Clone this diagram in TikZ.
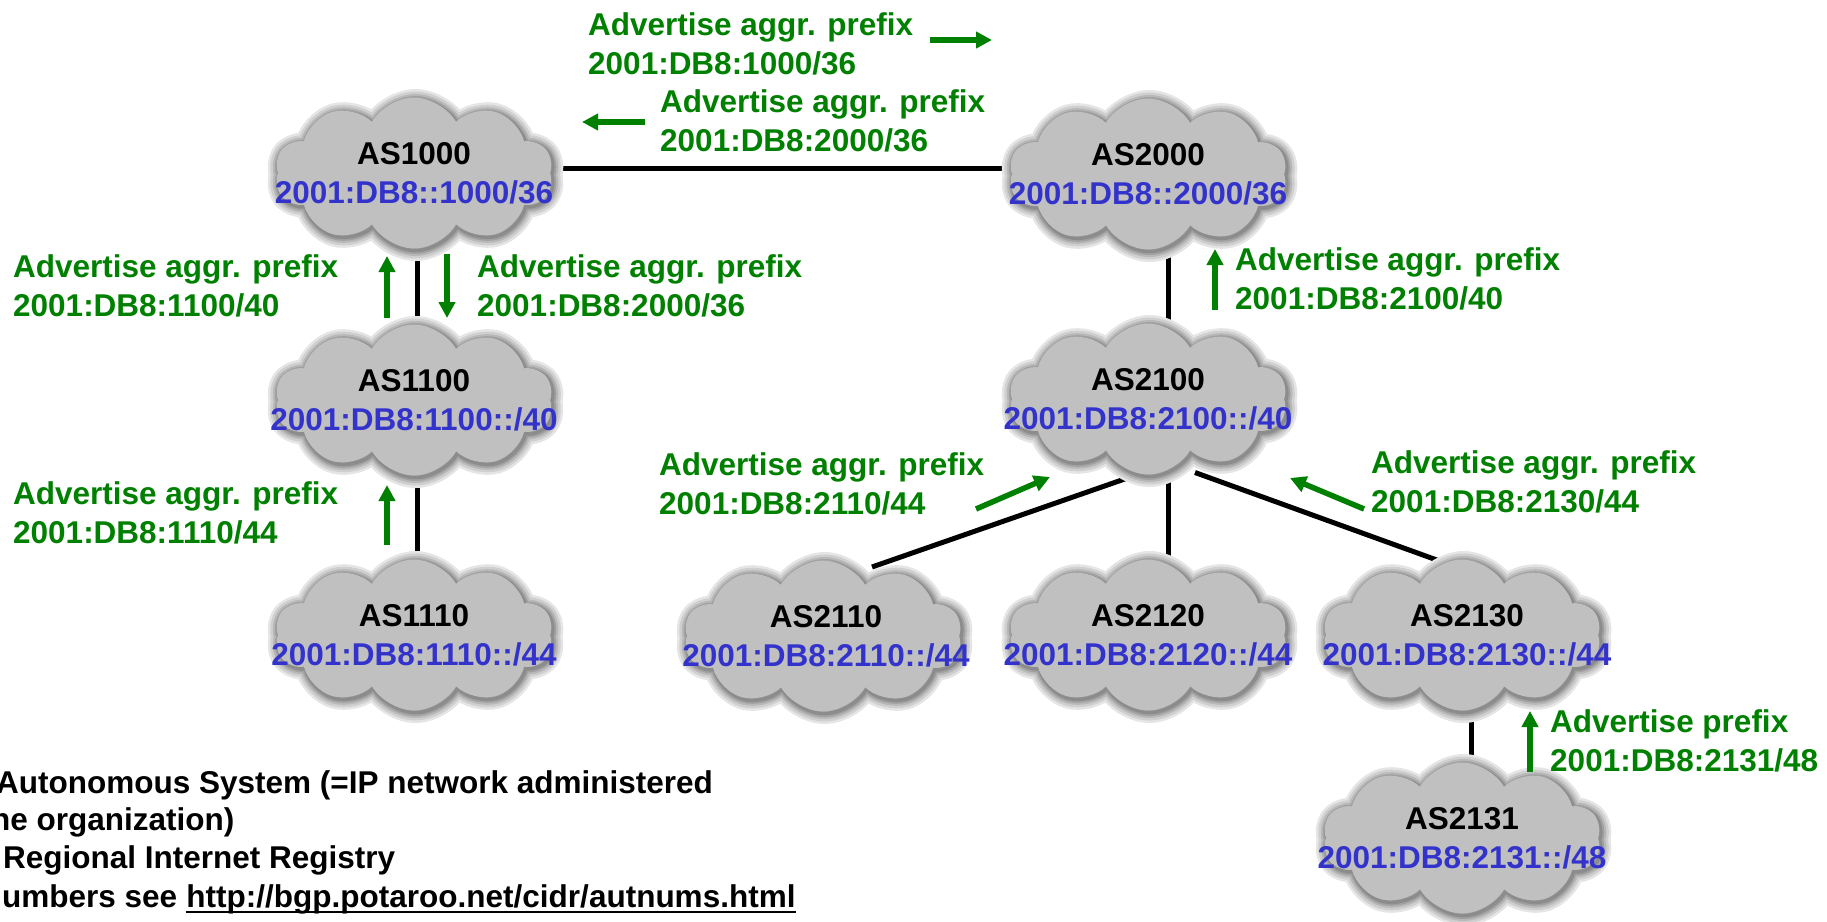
\documentclass[tikz,border=0pt]{standalone}
\usepackage{fontspec}
\setmainfont{Liberation Sans}
\usetikzlibrary{shapes.symbols,arrows.meta,calc}
\pgfdeclarelayer{bg}
\pgfsetlayers{bg,main}
\definecolor{cloudgray}{RGB}{192,192,192}
\definecolor{asblue}{RGB}{51,51,204}
\definecolor{advgreen}{RGB}{0,128,0}
\begin{document}
\begin{tikzpicture}[x=1pt,y=-1pt,
  every node/.style={font=\fontsize{31.5}{39}\selectfont\bfseries, inner sep=0pt},
  ascloud/.style={cloud, cloud puffs=10, cloud puff arc=120, cloud ignores aspect,
    minimum width=278pt, minimum height=151pt,
    preaction={draw=black!10, line width=21pt, transform canvas={shift={(1.5pt,-2pt)}}},
    preaction={draw=black!19, line width=16pt, transform canvas={shift={(1.5pt,-2pt)}}},
    preaction={draw=black!28, line width=11pt, transform canvas={shift={(1.5pt,-2pt)}}},
    preaction={draw=black!37, line width=7pt,  transform canvas={shift={(1.5pt,-2pt)}}},
    preaction={draw=black!45, line width=3.5pt,transform canvas={shift={(1.5pt,-2pt)}}},
    fill=cloudgray},
  astext/.style={align=center},
  link/.style={draw=black, line width=5pt},
  adv/.style={draw=advgreen, line width=5.5pt, -{Triangle[length=16pt,width=16pt]}},
  advtext/.style={text=advgreen, align=left, anchor=north west},
  note/.style={anchor=base west}
]
\useasboundingbox (0,0) rectangle (1827,921);
\clip (0,0) rectangle (1827,921);

% autonomous systems
\node[ascloud] (n1000) at (414,173) {};
\node[ascloud] (n2000) at (1148,174) {};
\node[ascloud] (n1100) at (414,400) {};
\node[ascloud] (n2100) at (1148,399) {};
\node[ascloud] (n1110) at (414,635) {};
\node[ascloud] (n2110) at (823,636) {};
\node[ascloud] (n2120) at (1148,635) {};
\node[ascloud] (n2130) at (1462,635) {};
\node[ascloud] (n2131) at (1462,838) {};

\node[astext] (t1000) at (n1000) {AS1000\\\textcolor{asblue}{2001:DB8::1000/36}};
\node[astext] (t2000) at (n2000) {AS2000\\\textcolor{asblue}{2001:DB8::2000/36}};
\node[astext] (t1100) at (n1100) {AS1100\\\textcolor{asblue}{2001:DB8:1100::/40}};
\node[astext] (t2100) at (n2100) {AS2100\\\textcolor{asblue}{2001:DB8:2100::/40}};
\node[astext] (t1110) at (n1110) {AS1110\\\textcolor{asblue}{2001:DB8:1110::/44}};
\node[astext] (t2110) at ([xshift=3pt]n2110) {AS2110\\\textcolor{asblue}{2001:DB8:2110::/44}};
\node[astext] (t2120) at (n2120) {AS2120\\\textcolor{asblue}{2001:DB8:2120::/44}};
\node[astext] (t2130) at ([xshift=5pt]n2130) {AS2130\\\textcolor{asblue}{2001:DB8:2130::/44}};
\node[astext] (t2131) at (n2131) {AS2131\\\textcolor{asblue}{2001:DB8:2131::/48}};

% peering links, behind the clouds
\begin{pgfonlayer}{bg}
\draw[link] ($(n1000.center)+(0,-5)$) -- ($(n2000.center)+(0,-6)$);
\draw[link] ($(n1000.center)+(3,0)$) -- ($(n1100.center)+(3,0)$);
\draw[link] ($(n1100.center)+(3,0)$) -- ($(n1110.center)+(3,0)$);
\draw[link] ($(n2000.center)+(20,0)$) -- ($(n2100.center)+(20,0)$);
\draw[link] ($(n2100.center)+(20,0)$) -- ($(n2120.center)+(20,0)$);
\draw[link] ($(n2100.center)+(-9,75)$) -- ($(n2110.center)+(49,-69)$);
\draw[link] ($(n2100.center)+(47,73.5)$) -- ($(n2130.center)+(-7,-68.4)$);
\draw[link] ($(n2130.center)+(9,0)$) -- ($(n2131.center)+(9,0)$);
\end{pgfonlayer}

% prefix advertisements
\coordinate (a1s) at (930,40);   \coordinate (a1e) at (992,40);
\coordinate (a2s) at (645,122);  \coordinate (a2e) at (582,122);
\coordinate (a3s) at (387,318);  \coordinate (a3e) at (387,256);
\coordinate (a4s) at (447,254);  \coordinate (a4e) at (447,318);
\coordinate (a5s) at (387,545);  \coordinate (a5e) at (387,485);
\coordinate (a6s) at (1215,310); \coordinate (a6e) at (1215,249);
\coordinate (a7s) at (976,509);  \coordinate (a7e) at (1050,477);
\coordinate (a8s) at (1364,509); \coordinate (a8e) at (1290,478);
\coordinate (a9s) at (1530,772); \coordinate (a9e) at (1530,711);
\foreach \i in {1,...,9} \draw[adv] (a\i s) -- (a\i e);

\node[advtext] (l1) at (588,12)   {Advertise aggr. prefix\\2001:DB8:1000/36};
\node[advtext] (l2) at (660,89)   {Advertise aggr. prefix\\2001:DB8:2000/36};
\node[advtext] (l3) at (13,254)   {Advertise aggr. prefix\\2001:DB8:1100/40};
\node[advtext] (l4) at (477,254)  {Advertise aggr. prefix\\2001:DB8:2000/36};
\node[advtext] (l5) at (13,481)   {Advertise aggr. prefix\\2001:DB8:1110/44};
\node[advtext] (l6) at (1235,247) {Advertise aggr. prefix\\2001:DB8:2100/40};
\node[advtext] (l7) at (659,452)  {Advertise aggr. prefix\\2001:DB8:2110/44};
\node[advtext] (l8) at (1371,450) {Advertise aggr. prefix\\2001:DB8:2130/44};
\node[advtext] (l9) at (1550,709) {Advertise prefix\\2001:DB8:2131/48};

% footnotes
\node[note] (f1) at (-4,793) {Autonomous System (=IP network administered};
\node[note] (f2) at (-9,830) {he organization)};
\node[note] (f3) at (3,868) {Regional Internet Registry};
\node[note] (f4) at (2,907)  {umbers see};
\node[note] (url) at ($(f4.base east)+(8.8,0)$) {http://bgp.potaroo.net/cidr/autnums.html};
\draw[line width=2.6pt] ($(url.base west)+(0,5)$) -- ($(url.base east)+(0,5)$);
\end{tikzpicture}
\end{document}
